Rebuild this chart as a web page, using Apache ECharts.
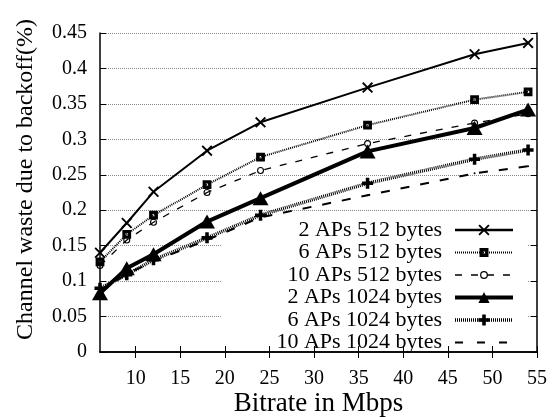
<!DOCTYPE html>
<html>
<head>
<meta charset="utf-8">
<script src="https://cdn.jsdelivr.net/npm/echarts@6/dist/echarts.min.js"></script>
<style>html,body{margin:0;padding:0;background:#fff}#c{width:552px;height:417px}</style>
</head>
<body>
<div id="c"></div>
<script>
var bitrates = [6, 9, 12, 18, 24, 36, 48, 54];
var seriesNames = ['2 APs 512 bytes', '6 APs 512 bytes', '10 APs 512 bytes', '2 APs 1024 bytes', '6 APs 1024 bytes', '10 APs 1024 bytes'];
var aps2b512  = [0.140, 0.182, 0.226, 0.284, 0.324, 0.373, 0.420, 0.436];
var aps6b512  = [0.127, 0.166, 0.193, 0.236, 0.275, 0.320, 0.356, 0.367];
var aps10b512 = [0.122, 0.158, 0.183, 0.225, 0.256, 0.294, 0.323, 0.336];
var aps2b1024 = [0.083, 0.118, 0.138, 0.184, 0.217, 0.283, 0.316, 0.342];
var aps6b1024 = [0.090, 0.109, 0.130, 0.161, 0.193, 0.238, 0.272, 0.285];
var aps10b1024= [0.086, 0.110, 0.128, 0.158, 0.190, 0.221, 0.252, 0.262];
var xTicks = [10, 15, 20, 25, 30, 35, 40, 45, 50, 55];

var FONT = '"Liberation Serif", "Times New Roman", serif';
function pairs(ys){ return bitrates.map(function(x,i){ return [x, ys[i]]; }); }

// symbol glyphs (10x10 boxes; degenerate corner segments keep padding)
var crossPath = 'path://M0,1.2L1.2,0L5,3.8L8.8,0L10,1.2L6.2,5L10,8.8L8.8,10L5,6.2L1.2,10L0,8.8L3.8,5Z';
var plusPath = 'path://M3.4,0H6.6V3.4H10V6.6H6.6V10H3.4V6.6H0V3.4H3.4Z';
var squarePath = 'path://M0,0L0,0M10,10L10,10M1,1H9V9H1ZM4,4V6H6V4Z';
var ringPath = 'path://M0,0L0,0M10,10L10,10M8.5,5A3.5,3.5 0 1,0 1.5,5A3.5,3.5 0 1,0 8.5,5ZM7.4,5A2.4,2.4 0 1,1 2.6,5A2.4,2.4 0 1,1 7.4,5Z';

var chart = echarts.init(document.getElementById('c'), null, {renderer:'canvas'});
var option = {
  animation: false,
  backgroundColor: '#fff',
  grid: {left: 100, right: 15, top: 33, bottom: 65, outerBoundsMode: 'none', containLabel: false},
  xAxis: [{
    type: 'value', min: 6, max: 55, position: 'bottom', z: 2,
    name: 'Bitrate in Mbps', nameLocation: 'middle', nameGap: 38, nameMoveOverlap: false,
    nameTextStyle: {fontFamily: FONT, fontSize: 27, color: '#000'},
    axisLine: {show: true, lineStyle: {color: '#000', width: 1.5}},
    axisTick: {show: true, inside: true, length: 6, customValues: xTicks, lineStyle: {color: '#000'}},
    axisLabel: {customValues: xTicks, margin: 17, fontFamily: FONT, fontSize: 20, color: '#000'},
    splitLine: {show: false}
  }, {
    type: 'value', min: 6, max: 55, position: 'top', z: 2,
    axisLine: {show: true, lineStyle: {color: '#000', width: 1.5}},
    axisTick: {show: true, inside: true, length: 6, customValues: xTicks, lineStyle: {color: '#000'}},
    axisLabel: {show: false},
    splitLine: {show: false}
  }],
  yAxis: [{
    type: 'value', min: 0, max: 0.45, interval: 0.05, position: 'left',
    name: 'Channel waste due to backoff(%)', nameLocation: 'middle', nameGap: 62,
    nameTextStyle: {fontFamily: FONT, fontSize: 24, color: '#000', padding: [0, 0, 0, 26]},
    axisLine: {show: true, lineStyle: {color: '#000', width: 1.5}},
    axisTick: {show: true, inside: true, length: 6, lineStyle: {color: '#000'}},
    axisLabel: {margin: 13, fontFamily: FONT, fontSize: 20, color: '#000',
      formatter: function(v){ return String(Math.round(v*100)/100); }},
    splitLine: {show: true, lineStyle: {color: '#888', width: 1, type: [1, 1]}}
  }, {
    type: 'value', min: 0, max: 0.45, interval: 0.05, position: 'right', z: 2,
    axisLine: {show: true, lineStyle: {color: '#000', width: 1.5}},
    axisTick: {show: true, inside: true, length: 6, lineStyle: {color: '#000'}},
    axisLabel: {show: false},
    splitLine: {show: false}
  }],
  legend: {
    orient: 'vertical', right: 24, top: 214, z: 1,
    align: 'right',
    itemWidth: 58, itemHeight: 14, itemGap: 0.5,
    backgroundColor: '#fff',
    padding: [5, 13, 1, 55],
    textStyle: {fontFamily: FONT, fontSize: 22, lineHeight: 21, color: '#000', padding: [0, 8, 0, 0]},
    data: [
      {name: seriesNames[0], lineStyle: {width: 2.5, type: 'solid'}},
      {name: seriesNames[1], lineStyle: {width: 2, type: [1, 1]}},
      {name: seriesNames[2], lineStyle: {width: 1.3, type: [7, 9]}},
      {name: seriesNames[3], lineStyle: {width: 4, type: 'solid'}},
      {name: seriesNames[4], lineStyle: {width: 3.5, type: [1, 1]}},
      {name: seriesNames[5], lineStyle: {width: 2, type: [8, 14]}, itemStyle: {color: 'rgba(0,0,0,0)', borderColor: 'rgba(0,0,0,0)'}}
    ]
  },
  series: [{
    name: seriesNames[0], type: 'line', data: pairs(aps2b512), z: 3,
    symbol: crossPath, symbolSize: 11,
    lineStyle: {color: '#000', width: 2, type: 'solid'},
    itemStyle: {color: '#000'}
  }, {
    name: seriesNames[1], type: 'line', data: pairs(aps6b512), z: 3,
    symbol: squarePath, symbolSize: 11,
    lineStyle: {color: '#000', width: 2, type: [1, 1]},
    itemStyle: {color: '#000'}
  }, {
    name: seriesNames[2], type: 'line', data: pairs(aps10b512), z: 3,
    symbol: ringPath, symbolSize: 10,
    lineStyle: {color: '#000', width: 1.3, type: [7, 9]},
    itemStyle: {color: '#000'}
  }, {
    name: seriesNames[3], type: 'line', data: pairs(aps2b1024), z: 3,
    symbol: 'triangle', symbolSize: [16, 14],
    lineStyle: {color: '#000', width: 4, type: 'solid'},
    itemStyle: {color: '#000'}
  }, {
    name: seriesNames[4], type: 'line', data: pairs(aps6b1024), z: 3,
    symbol: plusPath, symbolSize: 11,
    lineStyle: {color: '#000', width: 3.5, type: [1, 1]},
    itemStyle: {color: '#000'}
  }, {
    name: seriesNames[5], type: 'line', data: pairs(aps10b1024), z: 3,
    symbol: 'circle', symbolSize: 2,
    lineStyle: {color: '#000', width: 2, type: [9, 11]},
    itemStyle: {color: '#000'}
  }]
};
chart.setOption(option);
</script>
</body>
</html>
